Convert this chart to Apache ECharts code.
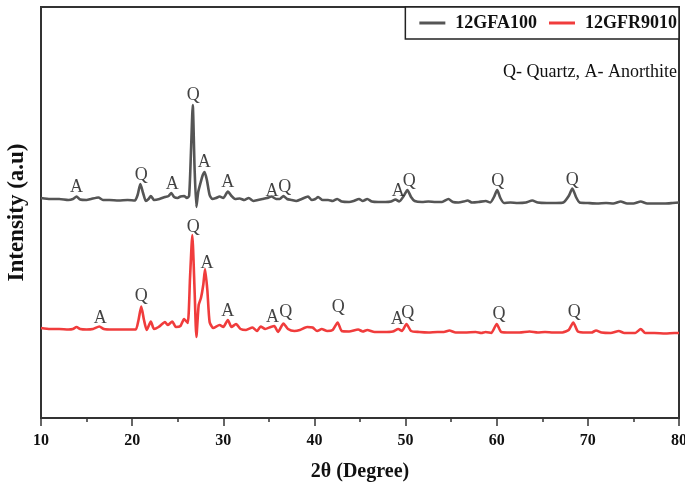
<!DOCTYPE html>
<html>
<head>
<meta charset="utf-8">
<script src="https://cdn.jsdelivr.net/npm/echarts@6/dist/echarts.min.js"></script>
<style>
  html, body { margin: 0; padding: 0; background: #fff; }
  #chart { width: 685px; height: 491px; }
</style>
</head>
<body>
<div id="chart"></div>
<script>
// XRD patterns of the two samples (stacked, arbitrary intensity units)
const gfaTheta = [10.0, 11.0, 12.0, 13.0, 13.5, 13.9, 14.3, 15.0, 15.5, 16.3, 16.8, 17.5, 18.5, 19.5, 20.3, 20.6, 20.9, 21.2, 21.5, 21.8, 22.05, 22.4, 23.0, 23.6, 24.0, 24.3, 24.6, 25.0, 25.3, 25.7, 26.0, 26.25, 26.45, 26.65, 26.85, 27.05, 27.25, 27.5, 27.75, 27.95, 28.2, 28.5, 28.8, 29.2, 29.6, 30.0, 30.5, 30.9, 31.3, 31.8, 32.3, 32.8, 33.3, 33.8, 34.3, 34.8, 35.3, 35.8, 36.2, 36.6, 37.0, 37.5, 38.0, 38.6, 39.3, 39.7, 40.1, 40.4, 40.9, 41.5, 42.0, 42.5, 43.0, 43.8, 44.3, 44.9, 45.3, 45.8, 46.3, 47.0, 47.8, 48.4, 48.9, 49.3, 49.8, 50.2, 50.6, 51.0, 51.8, 52.5, 53.3, 54.0, 54.7, 55.2, 55.8, 56.4, 56.8, 57.3, 58.0, 58.8, 59.3, 59.7, 60.05, 60.4, 60.8, 61.5, 62.3, 63.2, 63.9, 64.5, 65.5, 66.5, 67.3, 67.9, 68.3, 68.7, 69.1, 70.0, 71.0, 72.0, 72.8, 73.6, 74.3, 75.0, 75.8, 76.5, 77.5, 78.5, 79.3, 80.0];
const gfaIntensity = [220, 219, 219, 218, 219, 221.5, 218.5, 218, 219, 220.5, 218, 218, 217.5, 218, 217.5, 223, 234, 225, 217, 219, 222, 218, 219, 221, 222, 225, 221, 220, 221.5, 222, 220, 222, 265, 313, 250, 211, 226, 235, 243, 246, 238, 223, 219, 220, 221.5, 220, 226.5, 222, 219, 219.5, 218, 220, 217, 218, 219, 220, 221.5, 219, 219, 222, 219, 218, 217, 219, 221.5, 218, 219, 221, 218, 218, 217, 219, 216.5, 216, 217, 219, 217, 219, 216.5, 216, 216, 216.5, 218.5, 216.5, 222, 228, 221, 217, 216, 216.5, 216, 216, 219, 216, 215.5, 216.5, 217.5, 215.5, 216, 217, 215.5, 221, 228, 220, 215, 215.5, 215, 215.5, 217.5, 215.5, 215, 215, 215.5, 222, 229.5, 221, 215.5, 215, 214.5, 215, 214.5, 216.5, 214.5, 214.5, 216.5, 214.5, 214.5, 214.5, 215, 215.5];

const gfrTheta = [10.0, 11.0, 12.0, 13.0, 13.5, 13.9, 14.3, 15.0, 15.7, 16.4, 16.9, 17.8, 18.8, 19.8, 20.4, 20.7, 21.0, 21.3, 21.6, 22.05, 22.4, 22.9, 23.3, 23.6, 23.9, 24.4, 24.8, 25.3, 25.7, 26.1, 26.35, 26.6, 26.85, 27.05, 27.3, 27.55, 27.8, 28.0, 28.25, 28.5, 28.9, 29.6, 30.0, 30.5, 30.9, 31.4, 31.9, 32.5, 33.2, 33.7, 34.1, 34.6, 35.2, 35.6, 36.0, 36.6, 37.1, 37.8, 38.4, 39.2, 39.8, 40.3, 40.8, 41.4, 42.0, 42.55, 43.0, 43.8, 44.8, 45.3, 45.8, 46.6, 47.6, 48.6, 49.2, 49.6, 50.1, 50.6, 51.5, 52.5, 53.5, 54.2, 54.8, 55.5, 56.5, 57.7, 58.3, 58.8, 59.4, 60.0, 60.5, 61.5, 62.5, 63.6, 64.5, 65.3, 66.2, 67.2, 67.9, 68.4, 68.9, 69.8, 70.4, 70.9, 71.5, 72.5, 73.4, 74.0, 75.2, 75.8, 76.3, 77.3, 78.5, 79.5, 80.0];
const gfrIntensity = [90, 89, 89, 88.5, 89, 91, 89, 88.5, 89, 91.5, 89, 88.5, 88.5, 88.5, 88.5, 98, 111.5, 98, 88, 96.5, 89, 91, 94, 96, 93, 96.5, 91, 92, 99, 95, 140, 183, 128, 81, 113, 120, 133, 149, 128, 96, 90, 93, 91, 98, 91, 94, 89, 88, 90.5, 87, 91.5, 89, 91, 92, 86, 94.5, 89, 87, 88, 91, 90.5, 87, 89, 87, 88, 95.5, 87, 86.5, 88.5, 86.5, 88, 86, 86, 86.5, 89, 87, 94, 87, 86, 85.5, 86, 86, 87.5, 85.5, 85.5, 86, 85, 86, 85, 94, 86, 85.5, 85.5, 86.5, 85.5, 86, 85.5, 85.5, 88, 95.5, 86.5, 85.5, 85.5, 87.5, 85.5, 85, 87, 85, 85, 89, 85, 85, 84.5, 85, 85];

// Phase markers (Q = quartz, A = anorthite): letter, 2θ, label height
const gfaPhase = ['A', 'Q', 'A', 'Q', 'A', 'A', 'A', 'Q', 'A', 'Q', 'Q', 'Q'];
const gfaPhaseTheta = [13.9, 21.0, 24.4, 26.7, 27.9, 30.5, 35.35, 36.75, 49.2, 50.4, 60.1, 68.3];
const gfaPhaseLevel = [231, 243, 234, 323, 256, 236, 227, 231, 227, 237, 237, 238];

const gfrPhase = ['A', 'Q', 'Q', 'A', 'A', 'A', 'Q', 'Q', 'A', 'Q', 'Q', 'Q'];
const gfrPhaseTheta = [16.5, 21.0, 26.7, 28.2, 30.5, 35.4, 36.85, 42.6, 49.1, 50.25, 60.25, 68.5];
const gfrPhaseLevel = [100, 122, 191, 155, 107, 101, 106, 111, 99, 105, 104, 106];

const xTicks = [10, 20, 30, 40, 50, 60, 70, 80];

const zip = (xs, ys) => xs.map((x, i) => [x, ys[i]]);
const marks = (letters, xs, ys) => letters.map((t, i) => ({ name: t, value: [xs[i], ys[i]] }));

const serif = '"Liberation Serif", "Times New Roman", serif';
const GRAY = '#555555';
const RED = '#f03c3c';

const chart = echarts.init(document.getElementById('chart'), null, { renderer: 'canvas' });

const labelSeries = (data) => ({
  type: 'scatter',
  data: data,
  symbolSize: 0,
  silent: true,
  z: 5,
  label: {
    show: true,
    position: 'inside',
    formatter: '{b}',
    color: '#111',
    fontFamily: serif,
    fontSize: 18
  }
});

chart.setOption({
  animation: false,
  grid: {
    left: 41, right: 6, top: 7, bottom: 73,
    outerBoundsMode: 'none',
    containLabel: false,
    show: true, borderColor: '#333', borderWidth: 2, backgroundColor: 'transparent'
  },
  legend: {
    data: ['12GFA100', '12GFR9010'],
    right: 6, top: 7,
    orient: 'horizontal',
    icon: 'rect',
    itemWidth: 26, itemHeight: 3,
    itemGap: 12,
    padding: [7, 2, 7, 14],
    borderColor: '#222', borderWidth: 1.5,
    backgroundColor: '#fff',
    textStyle: {
      fontFamily: serif, fontWeight: 'bold', fontSize: 18, color: '#111',
      padding: [0, 0, 0, 5]
    }
  },
  graphic: [{
    type: 'text',
    right: 8, top: 63,
    style: {
      text: 'Q- Quartz, A- Anorthite',
      font: '18px ' + serif,
      fill: '#111'
    }
  }],
  xAxis: {
    type: 'value',
    min: 10, max: 80, interval: 10,
    name: '2θ (Degree)',
    nameLocation: 'middle',
    nameGap: 44,
    nameTextStyle: { fontFamily: serif, fontWeight: 'bold', fontSize: 20, color: '#111' },
    axisLine: { show: true, onZero: false, lineStyle: { color: '#333', width: 2 } },
    axisTick: { show: true, length: 8, inside: false, lineStyle: { color: '#333', width: 1.5 } },
    minorTick: { show: true, splitNumber: 2, length: 4, lineStyle: { color: '#333', width: 1.5 } },
    axisLabel: {
      margin: 15,
      fontFamily: serif, fontWeight: 'bold', fontSize: 16, color: '#111',
      customValues: xTicks
    },
    splitLine: { show: false }
  },
  yAxis: {
    type: 'value',
    min: 0, max: 411,
    name: 'Intensity (a.u)',
    nameLocation: 'middle',
    nameGap: 12,
    nameTextStyle: { fontFamily: serif, fontWeight: 'bold', fontSize: 23, color: '#111' },
    axisLine: { show: true, onZero: false, lineStyle: { color: '#333', width: 2 } },
    axisTick: { show: false },
    axisLabel: { show: false },
    splitLine: { show: false }
  },
  series: [
    {
      name: '12GFA100',
      type: 'line',
      data: zip(gfaTheta, gfaIntensity),
      showSymbol: false,
      symbol: 'none',
      smooth: 0.2,
      color: GRAY,
      lineStyle: { color: GRAY, width: 2.6 },
      z: 3
    },
    {
      name: '12GFR9010',
      type: 'line',
      data: zip(gfrTheta, gfrIntensity),
      showSymbol: false,
      symbol: 'none',
      smooth: 0.2,
      color: RED,
      lineStyle: { color: RED, width: 2.6 },
      z: 3
    },
    labelSeries(marks(gfaPhase, gfaPhaseTheta, gfaPhaseLevel)),
    labelSeries(marks(gfrPhase, gfrPhaseTheta, gfrPhaseLevel))
  ]
});
</script>
</body>
</html>
